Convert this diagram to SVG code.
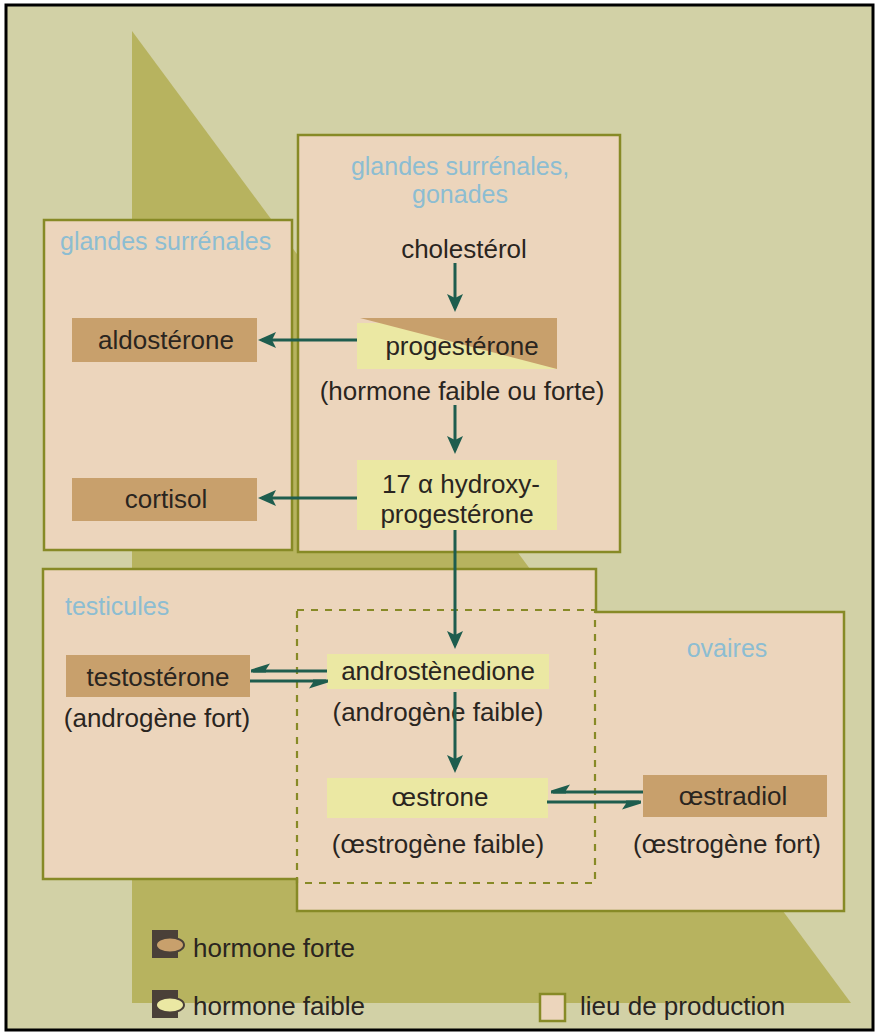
<svg xmlns="http://www.w3.org/2000/svg" width="878" height="1035" viewBox="0 0 878 1035">
  <defs>
    <style>
      .t { font-family: "Liberation Sans", Arial, sans-serif; font-size: 26px; fill: #2a251f; }
      .lbl { font-family: "Liberation Sans", Arial, sans-serif; font-size: 25px; fill: #8cbdd2; }
      .mid { text-anchor: middle; }
      .zone { fill: #ecd5bc; stroke: #878a26; stroke-width: 2.5; }
      .strong { fill: #c8a06c; }
      .weak { fill: #ebe8a3; }
      .flow { stroke: #1e5d4e; stroke-width: 3; fill: none; }
      .dash { fill: none; stroke: #878a26; stroke-width: 2.2; stroke-dasharray: 7 7; }
      .key { fill: #4a4038; }
    </style>
    <marker id="arrow" viewBox="0 0 18 16" refX="14" refY="8" markerWidth="18" markerHeight="16" markerUnits="userSpaceOnUse" orient="auto">
      <path d="M0,0 L18,8 L0,16 L4,8 Z" fill="#1e5d4e"/>
    </marker>
    <marker id="harpoon" viewBox="-20 -3 23 12" refX="0" refY="0" markerWidth="23" markerHeight="12" markerUnits="userSpaceOnUse" orient="auto">
      <path d="M2,-1.5 L2,1.5 L-17,7.5 L-13,1.5 L-13,-1.5 Z" fill="#1e5d4e"/>
    </marker>
  </defs>

  <!-- page -->
  <rect x="0" y="0" width="878" height="1035" fill="#ffffff"/>
  <rect x="6" y="5" width="867" height="1025" fill="#d2d1a6" stroke="#000000" stroke-width="3"/>
  <polygon points="132,31 132,1003 851,1003" fill="#b7b35f"/>

  <!-- production sites -->
  <g id="site-surrenales-gonades">
    <rect class="zone" x="298" y="135" width="322" height="417"/>
    <text class="lbl mid" x="460" y="175">glandes surrénales,</text>
    <text class="lbl mid" x="460" y="203">gonades</text>
  </g>
  <g id="site-surrenales">
    <rect class="zone" x="44" y="220" width="248" height="330"/>
    <text class="lbl" x="60" y="250">glandes surrénales</text>
  </g>
  <g id="site-testicules-ovaires">
    <path class="zone" d="M43,569 H596 V612 H844 V911 H297 V879 H43 Z"/>
    <rect class="dash" x="297" y="610" width="298" height="273"/>
    <text class="lbl" x="65" y="615">testicules</text>
    <text class="lbl mid" x="727" y="657">ovaires</text>
  </g>

  <!-- hormones -->
  <g id="cholesterol">
    <text class="t mid" x="464" y="258">cholestérol</text>
  </g>
  <g id="progesterone">
    <rect class="weak" x="357" y="323" width="200" height="46"/>
    <polygon class="strong" points="360,318 557,318 557,369"/>
    <text class="t mid" x="462" y="355">progestérone</text>
    <text class="t mid" x="462" y="400">(hormone faible ou forte)</text>
  </g>
  <g id="hydroxyprogesterone">
    <rect class="weak" x="357" y="460" width="200" height="70"/>
    <text class="t mid" x="461" y="493">17 α hydroxy-</text>
    <text class="t mid" x="457" y="523">progestérone</text>
  </g>
  <g id="aldosterone">
    <rect class="strong" x="72" y="318" width="185" height="44"/>
    <text class="t mid" x="166" y="349">aldostérone</text>
  </g>
  <g id="cortisol">
    <rect class="strong" x="72" y="478" width="185" height="43"/>
    <text class="t mid" x="166" y="508">cortisol</text>
  </g>
  <g id="testosterone">
    <rect class="strong" x="66" y="655" width="184" height="42"/>
    <text class="t mid" x="158" y="686">testostérone</text>
    <text class="t mid" x="157" y="727">(androgène fort)</text>
  </g>
  <g id="androstenedione">
    <rect class="weak" x="327" y="654" width="222" height="35"/>
    <text class="t mid" x="438" y="680">androstènedione</text>
    <text class="t mid" x="438" y="721">(androgène faible)</text>
  </g>
  <g id="oestrone">
    <rect class="weak" x="327" y="778" width="221" height="40"/>
    <text class="t mid" x="440" y="806">œstrone</text>
    <text class="t mid" x="438" y="853">(œstrogène faible)</text>
  </g>
  <g id="oestradiol">
    <rect class="strong" x="643" y="775" width="184" height="42"/>
    <text class="t mid" x="733" y="805">œstradiol</text>
    <text class="t mid" x="727" y="853">(œstrogène fort)</text>
  </g>

  <!-- conversions -->
  <g id="connectors">
    <line class="flow" x1="455" y1="263" x2="455" y2="308" marker-end="url(#arrow)"/>
    <line class="flow" x1="455" y1="405" x2="455" y2="450" marker-end="url(#arrow)"/>
    <line class="flow" x1="357" y1="340" x2="262" y2="340" marker-end="url(#arrow)"/>
    <line class="flow" x1="357" y1="498" x2="262" y2="498" marker-end="url(#arrow)"/>
    <line class="flow" x1="455" y1="530" x2="455" y2="645" marker-end="url(#arrow)"/>
    <line class="flow" x1="455" y1="692" x2="455" y2="769" marker-end="url(#arrow)"/>
    <line class="flow" x1="327" y1="671" x2="253" y2="671" marker-end="url(#harpoon)"/>
    <line class="flow" x1="250" y1="681" x2="326" y2="681" marker-end="url(#harpoon)"/>
    <line class="flow" x1="643" y1="792" x2="553" y2="792" marker-end="url(#harpoon)"/>
    <line class="flow" x1="547" y1="802" x2="639" y2="802" marker-end="url(#harpoon)"/>
  </g>

  <!-- key -->
  <g id="legend-forte">
    <rect class="key" x="152" y="930" width="26" height="28"/>
    <ellipse cx="170" cy="945" rx="14" ry="7.5" fill="#c8a06c" stroke="#4a4038" stroke-width="2"/>
    <text class="t" x="193" y="957">hormone forte</text>
  </g>
  <g id="legend-faible">
    <rect class="key" x="152" y="990" width="26" height="28"/>
    <ellipse cx="170" cy="1005" rx="14" ry="7.5" fill="#ebe8a3" stroke="#4a4038" stroke-width="2"/>
    <text class="t" x="193" y="1015">hormone faible</text>
  </g>
  <g id="legend-lieu">
    <rect class="zone" x="540" y="994" width="25" height="27"/>
    <text class="t" x="580" y="1015">lieu de production</text>
  </g>
</svg>
